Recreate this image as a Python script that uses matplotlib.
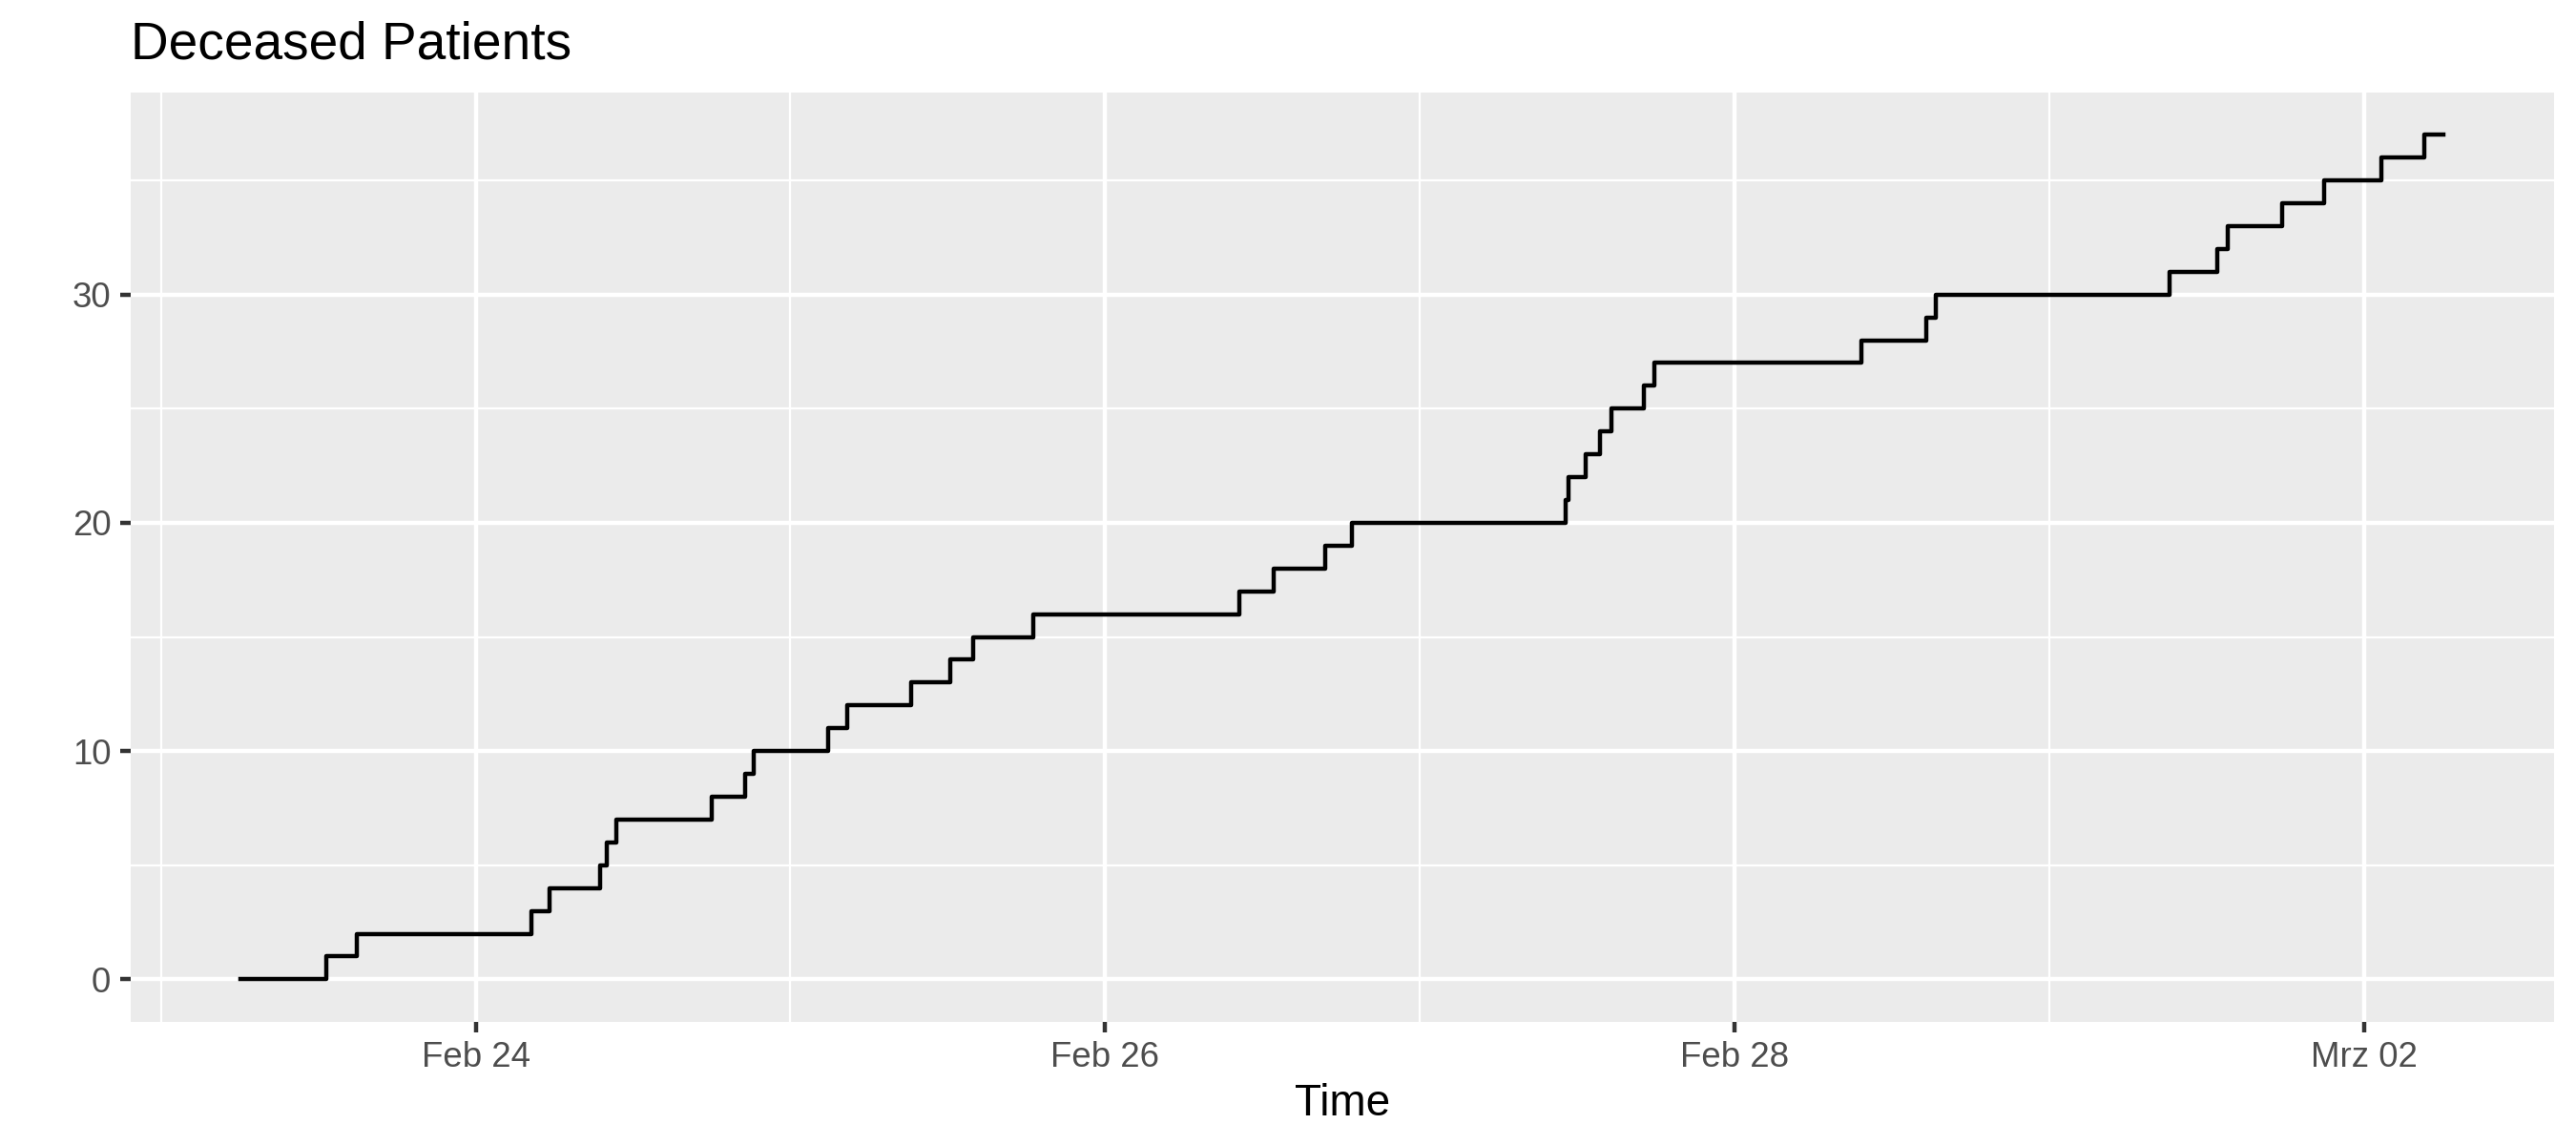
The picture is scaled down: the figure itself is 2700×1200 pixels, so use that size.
import matplotlib
matplotlib.use("Agg")
import matplotlib.pyplot as plt
import matplotlib.dates as mdates
import pandas as pd

# time of each death and cumulative count
death_times = [
    "2021-02-23 06:05", "2021-02-23 12:35", "2021-02-23 14:56",
    "2021-02-24 04:13", "2021-02-24 05:40", "2021-02-24 09:29",
    "2021-02-24 09:59", "2021-02-24 10:42", "2021-02-24 18:00",
    "2021-02-24 20:31", "2021-02-24 21:10", "2021-02-25 02:51",
    "2021-02-25 04:21", "2021-02-25 09:14", "2021-02-25 12:13",
    "2021-02-25 13:57", "2021-02-25 18:33", "2021-02-26 10:13",
    "2021-02-26 12:49", "2021-02-26 16:46", "2021-02-26 18:49",
    "2021-02-27 11:07", "2021-02-27 11:20", "2021-02-27 12:37",
    "2021-02-27 13:44", "2021-02-27 14:38", "2021-02-27 17:04",
    "2021-02-27 17:53", "2021-02-28 09:40", "2021-02-28 14:38",
    "2021-02-28 15:19", "2021-03-01 09:10", "2021-03-01 12:47",
    "2021-03-01 13:34", "2021-03-01 17:43", "2021-03-01 20:59",
    "2021-03-02 01:17", "2021-03-02 04:35", "2021-03-02 06:03",
]
deceased = [0, 1, 2, 3, 4, 5, 6, 7, 8, 9, 10, 11, 12, 13, 14, 15, 16, 17,
            18, 19, 20, 21, 22, 23, 24, 25, 26, 27, 28, 29, 30, 31, 32, 33,
            34, 35, 36, 37, 37]

x_ticks = ["2021-02-24", "2021-02-26", "2021-02-28", "2021-03-02"]
x_minor = ["2021-02-23", "2021-02-25", "2021-02-27", "2021-03-01"]
x_ticklabels = ["Feb 24", "Feb 26", "Feb 28", "Mrz 02"]
y_ticks = [0, 10, 20, 30]
y_minor = [5, 15, 25, 35]

plt.rcParams['font.family'] = ['Liberation Sans', 'DejaVu Sans']

t = pd.to_datetime(death_times)
tn = mdates.date2num(t)

fig = plt.figure(figsize=(9, 4), dpi=300)
ax = fig.add_axes([0.0507, 0.1078, 0.9406, 0.8114])
ax.set_facecolor("#EBEBEB")
for s in ax.spines.values():
    s.set_visible(False)

# ggplot-style grid
for v in mdates.date2num(pd.to_datetime(x_minor)):
    ax.axvline(v, color="white", lw=0.53, zorder=0)
for v in mdates.date2num(pd.to_datetime(x_ticks)):
    ax.axvline(v, color="white", lw=1.07, zorder=0)
for v in y_minor:
    ax.axhline(v, color="white", lw=0.53, zorder=0)
for v in y_ticks:
    ax.axhline(v, color="white", lw=1.07, zorder=0)

ax.plot(tn, deceased, drawstyle="steps-post", color="black", lw=1.07,
        zorder=3)

# 5% expansion like ggplot
xr = tn.max() - tn.min()
ax.set_xlim(tn.min() - 0.05 * xr, tn.max() + 0.05 * xr)
yr = max(deceased) - min(deceased)
ax.set_ylim(min(deceased) - 0.05 * yr, max(deceased) + 0.05 * yr)

ax.set_xticks(mdates.date2num(pd.to_datetime(x_ticks)))
ax.set_xticklabels(x_ticklabels)
ax.set_yticks(y_ticks)
ax.tick_params(axis="both", length=2.75, width=1.07, color="#333333",
               labelsize=8.8, labelcolor="#4D4D4D", pad=2.2)

ax.set_xlabel("Time", fontsize=11, color="black", labelpad=2.2)
ax.set_title("Deceased Patients", fontsize=13.2, color="black", loc="left",
             pad=8.5)

fig.savefig("out.png", dpi=300)
